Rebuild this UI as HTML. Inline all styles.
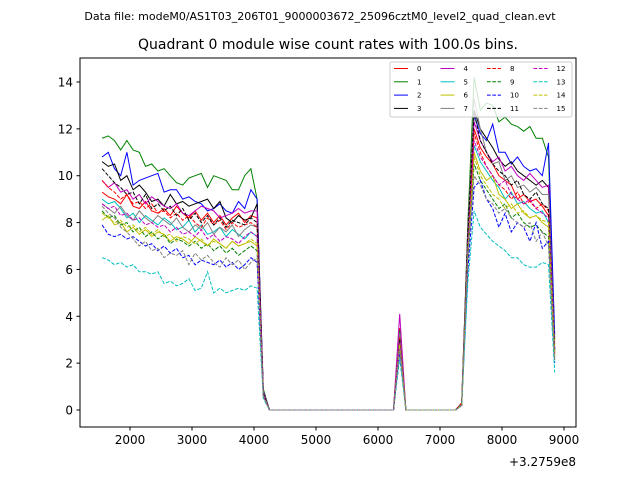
<!DOCTYPE html>
<html><head><meta charset="utf-8">
<style>
body{margin:0;background:#fff;}
svg text{font-family:"DejaVu Sans","Liberation Sans",sans-serif;}
</style></head>
<body>
<svg id="chart" width="640" height="480" viewBox="0 0 640 480" xmlns="http://www.w3.org/2000/svg">
<rect width="640" height="480" fill="#fff"/>
<text x="320" y="20" text-anchor="middle" font-size="11">Data file: modeM0/AS1T03_206T01_9000003672_25096cztM0_level2_quad_clean.evt</text>
<text x="328" y="49" text-anchor="middle" font-size="14">Quadrant 0 module wise count rates with 100.0s bins.</text>
<g id="plot"></g>
<g id="axes"></g>
<g id="legend"></g>
<text x="576" y="466" text-anchor="end" font-size="12">+3.2759e8</text>
</svg>
<script>
const times = [];
for (let i = 0; i < 74; i++) times.push(1550 + 100 * i);
const xTicks = [2000,3000,4000,5000,6000,7000,8000,9000];
const yTicks = [0,2,4,6,8,10,12,14];
const Z21 = "0,0,0,0,0,0,0,0,0,0,0,0,0,0,0,0,0,0,0,0,0";
const Z9 = "0,0,0,0,0,0,0,0,0";
const s0 = [9.3,9.1,9.0,8.8,9.2,8.7,8.6,8.9,8.5,8.4,8.6,8.3,8.7,8.4,8.2,8.5,8.1,8.4,8.0,8.3,7.9,8.2,8.4,8.0,8.3,8.2,0.8,0,0,0,0,0,0,0,0,0,0,0,0,0,0,0,0,0,0,0,0,0,3.5,0,0,0,0,0,0,0,0,0,0.3,7.0,12.0,11.2,10.8,10.5,10.0,9.8,9.6,9.0,9.2,8.9,9.0,8.7,8.3,2.8];
const s1 = [11.6,11.7,11.5,11.1,11.5,11.1,11.0,10.4,10.5,10.2,10.3,10.0,9.7,9.6,9.9,10.0,10.1,9.5,10.0,9.9,9.8,9.4,9.4,10.0,10.3,9.0,0.9,0,0,0,0,0,0,0,0,0,0,0,0,0,0,0,0,0,0,0,0,0,3.4,0,0,0,0,0,0,0,0,0,0.3,8.0,14.2,12.8,13.1,13.0,12.3,12.5,12.2,12.1,11.9,12.1,11.6,11.6,10.8,3.0];
const s2 = [10.8,11.0,10.3,10.0,11.0,9.6,9.8,9.9,10.0,10.1,9.3,9.4,9.4,9.0,9.1,8.9,8.8,8.5,8.6,8.8,8.5,8.4,8.9,8.6,9.4,9.0,0.8,0,0,0,0,0,0,0,0,0,0,0,0,0,0,0,0,0,0,0,0,0,3.2,0,0,0,0,0,0,0,0,0,0.2,7.5,12.6,11.8,11.5,12.2,11.0,11.0,10.5,10.8,10.4,10.2,10.3,10.0,11.4,3.2];
const s3 = [10.6,10.4,10.5,9.8,10.0,9.4,9.6,9.3,8.9,9.0,8.7,9.2,8.8,8.9,8.7,8.8,8.9,9.0,8.6,8.9,8.2,8.0,8.3,8.1,8.2,8.8,0.7,0,0,0,0,0,0,0,0,0,0,0,0,0,0,0,0,0,0,0,0,0,3.0,0,0,0,0,0,0,0,0,0,0.2,7.8,12.8,12.0,11.6,11.2,10.7,10.4,10.6,10.2,10.0,9.8,9.6,9.8,9.5,2.5];
const s4 = [9.8,9.5,9.7,9.3,9.4,9.0,9.2,8.8,9.1,8.9,8.7,8.6,8.8,8.4,8.3,8.5,8.7,8.6,8.5,8.2,8.3,8.4,8.6,8.4,8.5,8.5,0.8,0,0,0,0,0,0,0,0,0,0,0,0,0,0,0,0,0,0,0,0,0,4.1,0,0,0,0,0,0,0,0,0,0.3,7.6,12.3,11.5,11.0,10.6,10.8,10.2,10.4,10.0,9.8,10.1,9.8,9.5,9.6,2.6];
const s5 = [9.0,8.8,8.9,8.6,8.2,8.4,8.0,8.3,8.1,7.9,8.2,8.0,7.7,7.8,8.1,7.6,7.9,7.5,7.6,7.8,7.4,7.7,7.5,7.3,7.6,7.4,0.7,0,0,0,0,0,0,0,0,0,0,0,0,0,0,0,0,0,0,0,0,0,3.0,0,0,0,0,0,0,0,0,0,0.2,7.0,11.3,10.6,10.2,9.8,9.5,9.0,9.3,8.8,8.9,8.6,8.4,8.5,8.0,2.2];
const s6 = [8.1,8.3,7.9,8.0,7.6,7.8,7.5,7.7,7.4,7.6,7.5,7.2,7.4,7.3,7.1,7.4,7.2,7.0,7.3,7.1,6.9,7.2,7.0,7.1,7.2,7.0,0.6,0,0,0,0,0,0,0,0,0,0,0,0,0,0,0,0,0,0,0,0,0,2.8,0,0,0,0,0,0,0,0,0,0.2,6.8,11.0,10.2,9.8,10.0,9.2,9.0,8.6,8.8,8.4,8.2,8.3,8.0,7.8,2.4];
const s7 = [8.8,8.6,8.4,8.7,8.3,8.1,8.5,8.2,8.0,8.3,8.1,7.9,8.2,7.8,7.6,7.9,7.7,8.0,7.5,7.8,7.6,7.9,7.4,7.7,7.9,7.8,0.7,0,0,0,0,0,0,0,0,0,0,0,0,0,0,0,0,0,0,0,0,0,3.3,0,0,0,0,0,0,0,0,0,0.3,7.6,13.3,12.0,11.0,10.5,10.6,9.8,10.0,9.5,9.6,9.3,9.5,9.2,9.2,2.6];
const s8 = [9.8,9.5,9.3,9.0,9.2,8.8,8.9,8.6,8.8,8.4,8.5,8.2,8.4,8.1,8.3,8.0,7.8,8.2,7.9,8.1,7.7,8.0,7.8,7.9,8.0,7.8,0.7,0,0,0,0,0,0,0,0,0,0,0,0,0,0,0,0,0,0,0,0,0,3.1,0,0,0,0,0,0,0,0,0,0.3,7.2,11.8,11.0,10.4,10.0,9.6,9.4,9.0,9.3,8.8,8.9,8.6,8.8,8.5,2.4];
const s9 = [8.5,8.2,8.3,7.9,8.0,7.6,7.8,7.4,7.6,7.3,7.5,7.1,7.3,7.2,7.0,7.2,6.9,7.1,6.8,7.0,6.7,6.9,6.6,6.8,7.0,6.8,0.6,0,0,0,0,0,0,0,0,0,0,0,0,0,0,0,0,0,0,0,0,0,2.7,0,0,0,0,0,0,0,0,0,0.2,6.5,10.5,9.8,9.4,9.0,8.6,8.8,8.2,8.4,8.0,7.8,7.9,7.6,7.4,2.2];
const s10 = [7.9,7.5,7.4,7.5,7.3,7.4,7.2,7.0,7.1,6.8,7.0,6.7,6.9,6.5,6.6,6.2,6.4,6.3,6.2,6.4,6.1,6.3,6.0,6.2,6.5,6.3,0.6,0,0,0,0,0,0,0,0,0,0,0,0,0,0,0,0,0,0,0,0,0,2.5,0,0,0,0,0,0,0,0,0,0.2,6.0,9.5,9.8,9.0,8.6,7.8,8.4,7.6,8.0,7.8,7.2,8.0,6.9,7.2,2.0];
const s11 = [10.3,10.0,9.7,9.5,9.2,9.3,8.8,9.2,8.6,8.8,8.5,8.7,8.3,8.6,8.1,8.4,8.0,8.3,7.9,8.2,7.8,8.1,8.0,7.9,8.2,8.0,0.7,0,0,0,0,0,0,0,0,0,0,0,0,0,0,0,0,0,0,0,0,0,3.0,0,0,0,0,0,0,0,0,0,0.2,7.5,12.7,11.5,11.0,10.5,10.2,10.0,9.6,9.8,9.2,9.0,9.3,8.8,8.6,2.5];
const s12 = [8.8,8.6,8.7,8.3,8.4,8.1,8.2,7.9,8.0,7.8,7.9,7.6,7.8,7.5,7.6,7.4,7.7,7.3,7.5,7.2,7.4,7.3,7.1,7.4,7.6,7.4,0.6,0,0,0,0,0,0,0,0,0,0,0,0,0,0,0,0,0,0,0,0,0,2.9,0,0,0,0,0,0,0,0,0,0.2,7.0,11.5,10.8,10.4,10.0,9.6,9.8,9.2,9.0,8.8,9.0,8.6,8.4,8.2,2.3];
const s13 = [6.5,6.4,6.2,6.3,6.1,6.2,5.9,5.9,5.8,5.9,5.4,5.5,5.3,5.4,5.6,5.1,5.2,5.9,5.0,5.2,5.0,5.1,5.2,5.1,5.3,5.2,0.5,0,0,0,0,0,0,0,0,0,0,0,0,0,0,0,0,0,0,0,0,0,2.2,0,0,0,0,0,0,0,0,0,0.2,5.5,8.5,7.8,7.5,7.2,7.0,6.8,6.5,6.5,6.2,6.1,6.1,6.3,6.2,1.6];
const s14 = [8.4,8.2,8.0,8.1,7.8,7.9,7.6,7.8,7.5,7.7,7.4,7.5,7.2,7.4,7.3,7.1,7.3,7.0,7.2,7.1,6.9,7.2,7.0,7.1,7.3,7.1,0.6,0,0,0,0,0,0,0,0,0,0,0,0,0,0,0,0,0,0,0,0,0,2.8,0,0,0,0,0,0,0,0,0,0.2,6.8,10.8,10.0,9.6,9.2,9.0,8.6,8.8,8.4,8.5,8.2,8.3,8.1,8.0,2.3];
const s15 = [8.7,8.4,8.2,7.8,7.6,7.3,7.0,7.2,6.8,6.9,6.5,6.7,6.6,6.8,6.2,6.7,6.4,6.6,6.3,6.1,6.5,6.2,6.4,6.0,6.3,6.5,0.6,0,0,0,0,0,0,0,0,0,0,0,0,0,0,0,0,0,0,0,0,0,2.6,0,0,0,0,0,0,0,0,0,0.2,6.8,10.0,9.6,9.0,8.8,8.4,8.6,8.2,8.0,7.8,8.0,7.2,7.6,7.0,2.1];
const seriesLabels = ["0","1","2","3","4","5","6","7","8","9","10","11","12","13","14","15"];
const series = [s0,s1,s2,s3,s4,s5,s6,s7,s8,s9,s10,s11,s12,s13,s14,s15];
const colors = ["#ff0000","#008000","#0000ff","#000000","#bf00bf","#00bfbf","#bfbf00","#808080"];

const NS = "http://www.w3.org/2000/svg";
const L = 80, R = 576, T = 58, B = 427;
function xs(v){ return 130 + (v - 2000) * 0.062; }
function ys(v){ return 410 - v * (328 / 14); }
function mk(tag, attrs, parent){ const e = document.createElementNS(NS, tag); for (const k in attrs) e.setAttribute(k, attrs[k]); parent.appendChild(e); return e; }

const plot = document.getElementById('plot');
const axes = document.getElementById('axes');
const legend = document.getElementById('legend');

series.forEach((s, k) => {
  const d = s.map((v, i) => (i ? 'L' : 'M') + xs(times[i]).toFixed(2) + ' ' + ys(v).toFixed(2)).join(' ');
  const p = mk('path', {d: d, fill: 'none', stroke: colors[k % 8], 'stroke-width': 1, 'stroke-dasharray': k >= 8 ? '3.7,1.6' : 'none'}, plot);
  
  
});

const frame = mk('rect', {x: L, y: T, width: R - L, height: B - T, fill: 'none', stroke: '#000', 'stroke-width': 1}, axes);



xTicks.forEach(v => {
  const x = xs(v);
  const t = mk('line', {x1: x, x2: x, y1: B, y2: B + 3.5, stroke: '#000'}, axes);
  
  
  const lb = mk('text', {x: x, y: B + 17, 'text-anchor': 'middle', 'font-size': 12}, axes);
  lb.textContent = v;
  
  
});
yTicks.forEach(v => {
  const y = ys(v);
  const t = mk('line', {x1: L - 3.5, x2: L, y1: y, y2: y, stroke: '#000'}, axes);
  
  
  const lb = mk('text', {x: L - 7, y: y + 4.5, 'text-anchor': 'end', 'font-size': 12}, axes);
  lb.textContent = v;
  
  
});

const box = mk('rect', {x: 390, y: 62, width: 182, height: 55, rx: 2, fill: '#fff', 'fill-opacity': 0.8, stroke: '#ccc'}, legend);


seriesLabels.forEach((lab, k) => {
  const col = Math.floor(k / 4), row = k % 4;
  const x0 = 394 + col * 46.5, y0 = 68.5 + row * 13.3;
  const ln = mk('line', {x1: x0, x2: x0 + 14, y1: y0, y2: y0, stroke: colors[k % 8], 'stroke-width': 1, 'stroke-dasharray': k >= 8 ? '3.7,1.6' : 'none'}, legend);
  
  
  const tx = mk('text', {x: x0 + 23, y: y0 + 2.5, 'font-size': 7}, legend);
  tx.textContent = lab;
  
  
});
</script>
</body></html>
